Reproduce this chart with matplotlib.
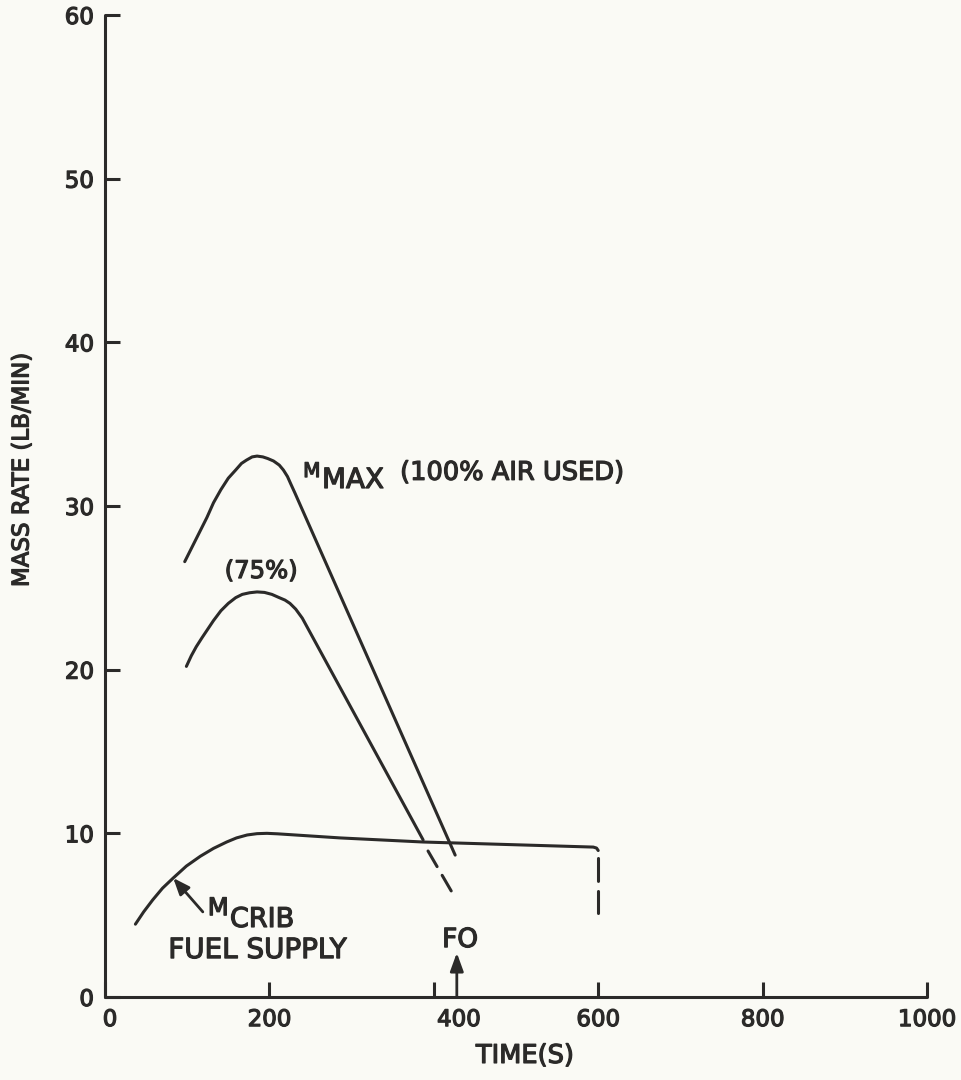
import matplotlib
matplotlib.use('Agg')
import matplotlib.pyplot as plt
import matplotlib.patheffects as pe
from matplotlib.transforms import ScaledTranslation

plt.rcParams['font.family'] = ['DejaVu Sans']

INK = '#2b2a29'
PAPER = '#fafaf5'

# M_MAX curve, 100% of the air used
t_max = [97, 104, 111, 118, 124, 132, 141, 150, 159, 166, 172, 179, 185, 192, 198, 205,
         212, 217, 222, 226, 231, 426]
m_max = [26.6, 27.3, 28.0, 28.7, 29.3, 30.2, 31.0, 31.7, 32.2, 32.6, 32.8, 33.0, 33.05, 33.0,
         32.9, 32.75, 32.5, 32.2, 31.8, 31.35, 30.8, 8.67]

# 75% air curve, solid part then dashed tail
t_75 = [99, 105, 111, 118, 124, 132, 141, 150, 159, 167, 176, 185, 194, 203, 212, 219,
        225, 232, 240, 387]
m_75 = [20.2, 20.85, 21.4, 21.95, 22.4, 23.0, 23.6, 24.05, 24.4, 24.6, 24.7, 24.75, 24.72,
        24.6, 24.4, 24.25, 24.05, 23.7, 23.15, 9.6]
t_75_tail = [393, 422]
m_75_tail = [8.92, 6.41]

# crib fuel supply, then dashed drop at burnout
t_crib = [37, 47, 58, 70, 83, 99, 116, 132, 148, 160, 173, 185, 197, 210, 286, 387, 594, 598, 600]
m_crib = [4.45, 5.2, 5.93, 6.65, 7.27, 8.0, 8.6, 9.08, 9.47, 9.72, 9.9, 9.98, 10.0, 9.97,
          9.72, 9.47, 9.16, 9.1, 8.95]
t_crib_tail = [600, 600]
m_crib_tail = [8.49, 5.13]

t_fo = 428
xticks = [0, 200, 400, 600, 800, 1000]
yticks = [0, 10, 20, 30, 40, 50, 60]

fig = plt.figure(figsize=(9.62, 10.8), dpi=100, facecolor=PAPER)
ax = fig.add_axes([105/962, 1 - 997/1080, (927 - 105)/962, (997 - 15)/1080])
ax.set_facecolor(PAPER)

# slightly heavier lettering
bold = [pe.withStroke(linewidth=0.9, foreground=INK)]

lw = 2.2
line_kw = dict(color=INK, lw=lw, solid_capstyle='round', dash_capstyle='round',
               solid_joinstyle='round', clip_on=False)
ax.plot(t_max, m_max, **line_kw)
ax.plot(t_75, m_75, **line_kw)
ax.plot(t_75_tail, m_75_tail, linestyle=(0, (5.9, 3.3)), **line_kw)
ax.plot(t_crib, m_crib, **line_kw)
ax.plot(t_crib_tail, m_crib_tail, linestyle=(0, (7.5, 3.3)), **line_kw)

ax.set_xlim(0, 1000)
ax.set_ylim(0, 60)
for side in ['top', 'right']:
    ax.spines[side].set_visible(False)
for side in ['left', 'bottom']:
    ax.spines[side].set_color(INK)
    ax.spines[side].set_linewidth(lw)
    ax.spines[side].set_capstyle('round')

ax.set_xticks(xticks)
ax.set_yticks(yticks)
ax.tick_params(direction='in', length=11, width=lw, color=INK, labelcolor=INK,
               labelsize=16.5, pad=8)

for lab in ax.get_xticklabels() + ax.get_yticklabels():
    lab.set_path_effects(bold)
# the 400 label sits under the FO arrow, the 0 a bit right of the axis
for lab in ax.get_xticklabels():
    if lab.get_text() == '400':
        lab.set_transform(lab.get_transform() + ScaledTranslation(0.25, 0, fig.dpi_scale_trans))
    if lab.get_text() == '0':
        lab.set_transform(lab.get_transform() + ScaledTranslation(0.05, 0, fig.dpi_scale_trans))

ax.text(511, -3.6, 'TIME(S)', fontsize=18.5, color=INK, ha='center', va='center',
        path_effects=bold)
ax.text(-101, 32.2, 'MASS RATE (LB/MIN)', fontsize=16.5, color=INK, ha='center',
        va='center', rotation=90, path_effects=bold, clip_on=False)

txt = dict(color=INK, va='baseline', path_effects=bold)
ax.text(241, 31.77, 'M', fontsize=14.5, **txt)
ax.text(264, 31.1, 'MAX', fontsize=20, **txt)
ax.text(359, 31.6, '(100% AIR USED)', fontsize=18.5, **txt)
ax.text(190, 25.6, '(75%)', fontsize=17.5, ha='center', **txt)

ax.text(125, 5.0, 'M', fontsize=17.5, **txt)
ax.text(152, 4.28, 'CRIB', fontsize=19.5, **txt)
ax.text(77, 2.38, 'FUEL SUPPLY', fontsize=20, **txt)
ax.annotate('', xy=(83, 7.27), xytext=(119, 5.2),
            arrowprops=dict(arrowstyle='-|>,head_length=1.0,head_width=0.4',
                            lw=2, color=INK, shrinkA=0, shrinkB=0))

ax.text(t_fo + 4, 3.05, 'FO', fontsize=19, ha='center', **txt)
ax.annotate('', xy=(t_fo, 2.7), xytext=(t_fo, 0),
            arrowprops=dict(arrowstyle='-|>,head_length=1.1,head_width=0.4',
                            lw=2, color=INK, shrinkA=0, shrinkB=0))

fig.savefig('out.png', dpi=100, facecolor=PAPER)
